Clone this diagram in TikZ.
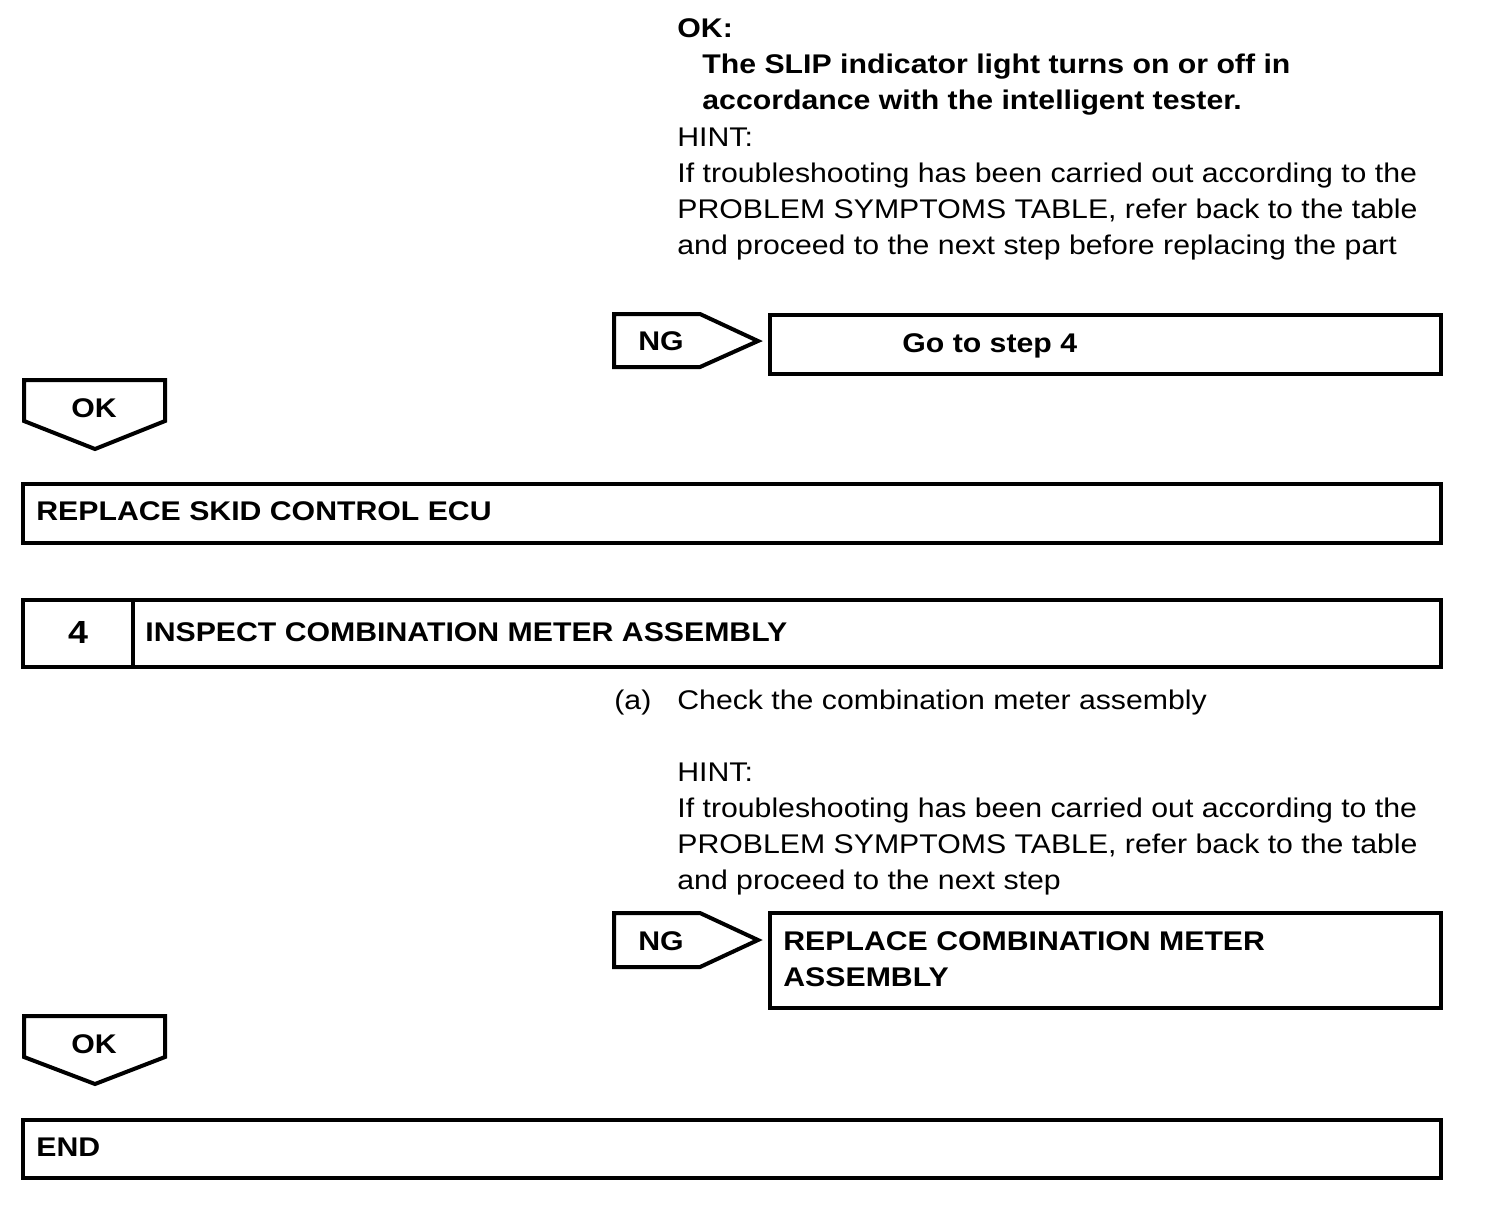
\documentclass[tikz,border=0pt]{standalone}
\usepackage{fontspec}
\setmainfont[FakeStretch=1.12]{Liberation Sans}
\begin{document}
\begin{tikzpicture}[x=0.5pt,y=-0.5pt,
    txt/.style={anchor=base west,inner sep=0pt,font=\fontsize{13.5}{16}\selectfont},
    btxt/.style={txt,font=\fontsize{13.5}{16}\selectfont\bfseries},
    frame/.style={line width=2pt,line join=miter}]
        \useasboundingbox (0,0) rectangle (1504,1222);
        % top text
        \node[btxt] (okhead) at (677,37) {OK:};
        \node[btxt] (okline1) at (702,73) {The SLIP indicator light turns on or off in};
        \node[btxt] (okline2) at (702,109) {accordance with the intelligent tester.};
        \node[txt] (hint1) at (677,146) {HINT:};
        \node[txt] (hint1a) at (677,182) {If troubleshooting has been carried out according to the};
        \node[txt] (hint1b) at (677,218) {PROBLEM SYMPTOMS TABLE, refer back to the table};
        \node[txt] (hint1c) at (677,254) {and proceed to the next step before replacing the part};
        % NG branch of step 3
        \draw[frame] (614,314) -- (700,314) -- (758,341) -- (700,367) -- (614,367) -- cycle;
        \node[btxt] (ng1) at (638,350) {NG};
        \draw[frame] (770,315) rectangle (1441,374);
        \node[btxt] (goto4) at (902,352) {Go to step 4};
        % OK of step 3
        \draw[frame] (24,380) -- (165,380) -- (165,421) -- (95,449) -- (24,421) -- cycle;
        \node[btxt] (ok1) at (71,417) {OK};
        \draw[frame] (23,484) rectangle (1441,543);
        \node[btxt] (skid) at (36,520) {REPLACE SKID CONTROL ECU};
        % step 4
        \draw[frame] (23,600) rectangle (1441,667);
        \draw[frame] (133,600) -- (133,667);
        \node[btxt,anchor=base,font=\fontsize{16}{18}\selectfont\bfseries] (num4) at (78,643) {4};
        \node[btxt] (step4) at (145,641) {INSPECT COMBINATION METER ASSEMBLY};
        \node[txt] (parta) at (614,709) {(a)};
        \node[txt] (check) at (677,709) {Check the combination meter assembly};
        \node[txt] (hint2) at (677,781) {HINT:};
        \node[txt] (hint2a) at (677,817) {If troubleshooting has been carried out according to the};
        \node[txt] (hint2b) at (677,853) {PROBLEM SYMPTOMS TABLE, refer back to the table};
        \node[txt] (hint2c) at (677,889) {and proceed to the next step};
        % NG branch of step 4
        \draw[frame] (614,913) -- (700,913) -- (758,940) -- (700,967) -- (614,967) -- cycle;
        \node[btxt] (ng2) at (638,950) {NG};
        \draw[frame] (770,913) rectangle (1441,1008);
        \node[btxt] (meter1) at (783,950) {REPLACE COMBINATION METER};
        \node[btxt] (meter2) at (783,986) {ASSEMBLY};
        % OK of step 4
        \draw[frame] (24,1016) -- (165,1016) -- (165,1057) -- (95,1084) -- (24,1057) -- cycle;
        \node[btxt] (ok2) at (71,1053) {OK};
        \draw[frame] (23,1120) rectangle (1441,1178);
        \node[btxt] (endbox) at (36,1156) {END};
    \end{tikzpicture}
\end{document}
